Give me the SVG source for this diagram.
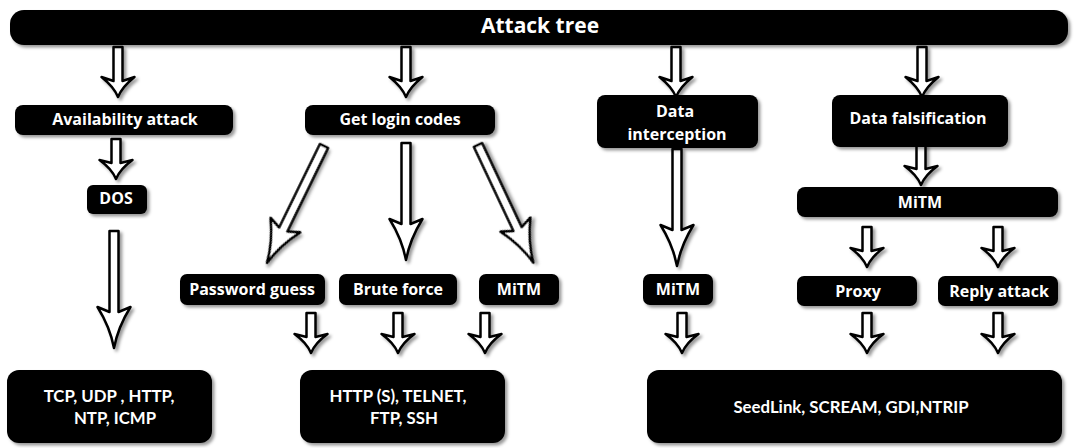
<svg xmlns="http://www.w3.org/2000/svg" xmlns:xlink="http://www.w3.org/1999/xlink" width="1075" height="448" viewBox="0 0 1075 448">
<style>
.box{fill:#000;filter:url(#sh)}
.lbl{fill:#fff;font-family:"Open Sans","DejaVu Sans",sans-serif;font-weight:700;font-size:16px;text-anchor:middle}
.big{font-size:21px}
.leaf{fill:#fff;font-family:Lato,"Liberation Sans",sans-serif;font-weight:700;font-size:16.8px;text-anchor:middle}
.arr{fill:#fff;stroke:#000;stroke-width:2.5;stroke-linejoin:round;filter:url(#sh)}
</style>
<defs>
<filter id="sh" x="-20%" y="-20%" width="140%" height="150%">
<feDropShadow dx="2.5" dy="2.5" stdDeviation="1.8" flood-color="#000" flood-opacity="0.4"/>
</filter>
<path id="aT" d="M-4.5,0 H4.5 V34 L16.5,30 Q4,40 0,50 Q-4,40 -16.5,30 L-4.5,34 Z"/>
<path id="aS" d="M-4.5,0 H4.5 V24 L16.5,21 Q4,30 0,40 Q-4,30 -16.5,21 L-4.5,24 Z"/>
<path id="aL" d="M-4.5,0 H4.5 V81 L16.5,76 Q4,96 0,117 Q-4,96 -16.5,76 L-4.5,81 Z"/>
<path id="aD" d="M-4.5,0 H4.5 V93 L16.5,88 Q4,108 0,130 Q-4,108 -16.5,88 L-4.5,93 Z"/>
</defs>
<rect width="1075" height="448" fill="#fff"/>
<g id="connectors">
<use href="#aT" class="arr" transform="translate(118,47)"/>
<use href="#aT" class="arr" transform="translate(406,47)"/>
<use href="#aT" class="arr" transform="translate(676,47)"/>
<use href="#aT" class="arr" transform="translate(922,47)"/>
<use href="#aS" class="arr" transform="translate(116,139)"/>
<use href="#aL" class="arr" transform="translate(114,231)"/>
<use href="#aD" class="arr" transform="translate(324,146) rotate(26)"/>
<use href="#aL" class="arr" transform="translate(406,143)"/>
<use href="#aD" class="arr" transform="translate(478,145) rotate(-25.2)"/>
<use href="#aL" class="arr" transform="translate(677,149)"/>
<use href="#aS" class="arr" transform="translate(921,145)"/>
<use href="#aS" class="arr" transform="translate(867,227)"/>
<use href="#aS" class="arr" transform="translate(998,227)"/>
<use href="#aS" class="arr" transform="translate(311,313)"/>
<use href="#aS" class="arr" transform="translate(398,313)"/>
<use href="#aS" class="arr" transform="translate(485,313)"/>
<use href="#aS" class="arr" transform="translate(682,313)"/>
<use href="#aS" class="arr" transform="translate(867,313)"/>
<use href="#aS" class="arr" transform="translate(998,313)"/>
</g>
<g id="root"><rect class="box" x="10" y="10" width="1058" height="35" rx="14"/><text class="lbl big" x="540" y="33">Attack tree</text></g>
<g id="avail"><rect class="box" x="15" y="105" width="218" height="30" rx="8"/><text class="lbl" x="125" y="125">Availability attack</text></g>
<g id="login"><rect class="box" x="305" y="105" width="190" height="30" rx="8"/><text class="lbl" x="400" y="125">Get login codes</text></g>
<g id="intercept"><rect class="box" x="597" y="95" width="161" height="53" rx="8"/><text class="lbl" x="675" y="117">Data</text><text class="lbl" x="677" y="140">interception</text></g>
<g id="falsif"><rect class="box" x="832" y="95" width="176" height="52" rx="8"/><text class="lbl" x="918" y="124">Data falsification</text></g>
<g id="dos"><rect class="box" x="87" y="185" width="60" height="29" rx="6"/><text class="lbl" x="116" y="204">DOS</text></g>
<g id="mitm3"><rect class="box" x="797" y="187" width="261" height="30" rx="8"/><text class="lbl" x="920" y="208">MiTM</text></g>
<g id="password"><rect class="box" x="180" y="274" width="145" height="31" rx="7"/><text class="lbl" x="252" y="295">Password guess</text></g>
<g id="brute"><rect class="box" x="339" y="274" width="118" height="31" rx="7"/><text class="lbl" x="398" y="295">Brute force</text></g>
<g id="mitm1"><rect class="box" x="479" y="274" width="80" height="31" rx="7"/><text class="lbl" x="519" y="295">MiTM</text></g>
<g id="mitm2"><rect class="box" x="643" y="274" width="70" height="31" rx="7"/><text class="lbl" x="678" y="295">MiTM</text></g>
<g id="proxy"><rect class="box" x="797" y="276" width="120" height="30" rx="7"/><text class="lbl" x="858" y="297">Proxy</text></g>
<g id="reply"><rect class="box" x="938" y="276" width="120" height="30" rx="7"/><text class="lbl" x="999" y="297">Reply attack</text></g>
<g id="proto1"><rect class="box" x="7" y="370" width="205" height="73" rx="12"/><text class="leaf" x="109" y="402">TCP, UDP , HTTP,</text><text class="leaf" x="115" y="424">NTP, ICMP</text></g>
<g id="proto2"><rect class="box" x="300" y="370" width="205" height="73" rx="12"/><text class="leaf" x="398" y="402">HTTP (S), TELNET,</text><text class="leaf" x="404" y="424">FTP, SSH</text></g>
<g id="proto3"><rect class="box" x="647" y="370" width="415" height="73" rx="12"/><text class="leaf" x="851" y="413">SeedLink, SCREAM, GDI,NTRIP</text></g>
</svg>
